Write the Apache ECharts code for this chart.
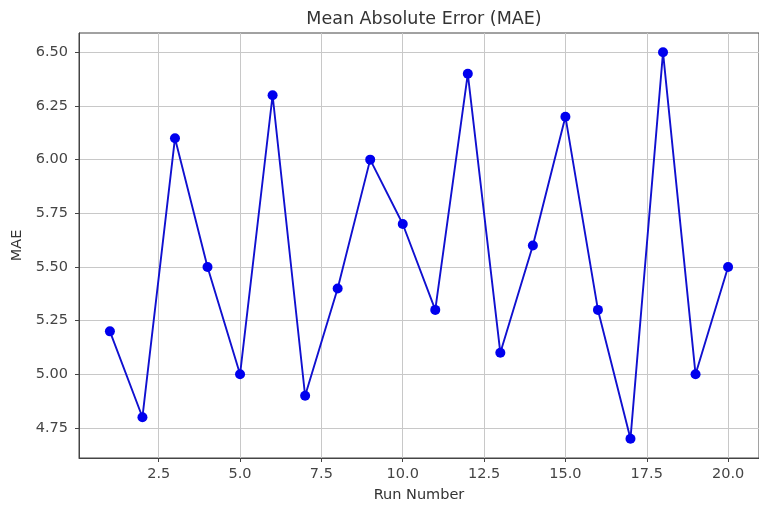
<!DOCTYPE html>
<html>
<head>
<meta charset="utf-8">
<script src="https://cdn.jsdelivr.net/npm/echarts@6/dist/echarts.min.js"></script>
<style>
  html, body { margin: 0; padding: 0; background: #fff; }
  #chart { width: 759px; height: 508px; }
</style>
</head>
<body>
<div id="chart"></div>
<script>
// run numbers and MAE per run
const runs = [1, 2, 3, 4, 5, 6, 7, 8, 9, 10, 11, 12, 13, 14, 15, 16, 17, 18, 19, 20];
const maeValues = [5.2, 4.8, 6.1, 5.5, 5.0, 6.3, 4.9, 5.4, 6.0, 5.7, 5.3, 6.4, 5.1, 5.6, 6.2, 5.3, 4.7, 6.5, 5.0, 5.5];
const xTicks = [2.5, 5.0, 7.5, 10.0, 12.5, 15.0, 17.5, 20.0];
const yTicks = [4.75, 5.0, 5.25, 5.5, 5.75, 6.0, 6.25, 6.5];

const font = '"DejaVu Sans", sans-serif';
const chart = echarts.init(document.getElementById('chart'), null, { renderer: 'canvas' });

chart.setOption({
  animation: false,
  title: {
    text: 'Mean Absolute Error (MAE)',
    left: 419,
    textAlign: 'center',
    top: 5,
    textStyle: { fontFamily: font, fontSize: 17.5, fontWeight: 'normal', color: '#333' }
  },
  grid: {
    left: 79, top: 33, width: 681, height: 426,
    show: true, borderColor: '#444', borderWidth: 1
  },
  xAxis: {
    type: 'value',
    min: 0.05, max: 20.95,
    name: 'Run Number',
    nameLocation: 'middle',
    nameGap: 30,
    nameTextStyle: { fontFamily: font, fontSize: 14.5, color: '#333' },
    axisLine: { show: true, lineStyle: { color: '#444' } },
    axisTick: { show: true, length: 4, customValues: xTicks, lineStyle: { color: '#444' } },
    axisLabel: {
      customValues: xTicks, margin: 9,
      fontFamily: font, fontSize: 14.5, color: '#444',
      formatter: v => v.toFixed(1)
    },
    splitLine: { show: true, lineStyle: { color: '#c8c8c8', width: 1 } }
  },
  yAxis: {
    type: 'value',
    min: 4.61, max: 6.59,
    name: 'MAE',
    nameLocation: 'middle',
    nameGap: 50,
    nameRotate: 90,
    nameTextStyle: { fontFamily: font, fontSize: 14.5, color: '#333' },
    axisLine: { show: true, lineStyle: { color: '#444' } },
    axisTick: { show: true, length: 4, customValues: yTicks, lineStyle: { color: '#444' } },
    axisLabel: {
      customValues: yTicks, margin: 11,
      fontFamily: font, fontSize: 14.5, color: '#444',
      formatter: v => v.toFixed(2)
    },
    splitLine: { show: true, lineStyle: { color: '#c8c8c8', width: 1 } }
  },
  series: [{
    type: 'line',
    data: runs.map((r, i) => [r, maeValues[i]]),
    symbol: 'circle',
    symbolSize: 10,
    showAllSymbol: true,
    lineStyle: { color: '#1010d0', width: 1.9 },
    itemStyle: { color: '#0000ee' }
  }]
});
</script>
</body>
</html>
